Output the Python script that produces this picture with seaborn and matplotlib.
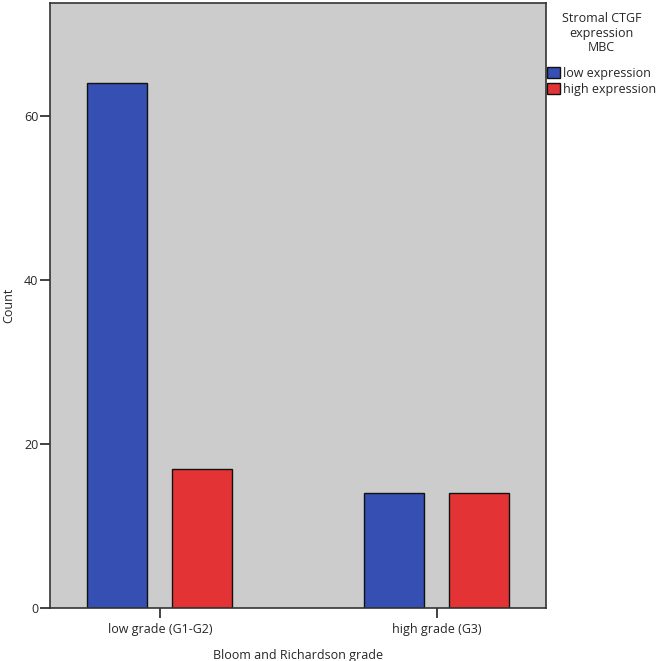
import numpy as np
import pandas as pd
import matplotlib
matplotlib.use("Agg")
import matplotlib.pyplot as plt
import seaborn as sns

# data
grades = ["low grade (G1-G2)", "high grade (G3)"]
expr_levels = ["low expression", "high expression"]
low_expr_counts = [64, 14]
high_expr_counts = [17, 14]
colors = ["#3550B2", "#E43334"]

df = pd.DataFrame({
    "grade": grades * 2,
    "expression": [expr_levels[0]] * 2 + [expr_levels[1]] * 2,
    "count": low_expr_counts + high_expr_counts,
})

sns.set_style("ticks")
plt.rcParams["font.family"] = ["Open Sans", "DejaVu Sans"]
plt.rcParams["font.size"] = 9

fig = plt.figure(figsize=(6.6, 6.61), dpi=100)
W, H = 660, 661
ax = fig.add_axes([50 / W, 1 - 608 / H, (546 - 50) / W, (608 - 3) / H])
ax.set_facecolor("#CCCCCC")

sns.barplot(data=df, x="grade", y="count", hue="expression", order=grades,
            hue_order=expr_levels, palette=colors, width=0.614, gap=0.294,
            edgecolor="#111111", linewidth=1.0, saturation=1, ax=ax)

ax.set_xlim(-0.397, 1.394)
ax.set_ylim(0, 73.8)
ax.set_yticks([0, 20, 40, 60])
for s in ax.spines.values():
    s.set_color("#333333")
    s.set_linewidth(1.2)
ax.tick_params(axis="both", length=7, width=1.2, color="#222222", pad=1.5, labelsize=9)
ax.tick_params(axis="x", pad=4)
ax.set_xlabel("Bloom and Richardson grade", fontsize=9, labelpad=9)
ax.set_ylabel("Count", fontsize=9, labelpad=6)

ax.get_legend().remove()
handles = [plt.Rectangle((0, 0), 1, 1, facecolor=c, edgecolor="#111111", linewidth=1.0) for c in colors]
leg = fig.legend(handles, expr_levels, title="Stromal CTGF\nexpression\nMBC",
                 loc="upper left", bbox_to_anchor=(547 / W, 1 - 12 / H),
                 frameon=False, fontsize=9, title_fontsize=9, alignment="center",
                 handlelength=1.0, handleheight=1.0, handletextpad=0.3,
                 borderpad=0, borderaxespad=0, labelspacing=0.25)
leg.get_title().set_multialignment("center")
leg.get_title().set_linespacing(1.15)
leg._legend_box.sep = 9

fig.savefig("out.png", dpi=100)
